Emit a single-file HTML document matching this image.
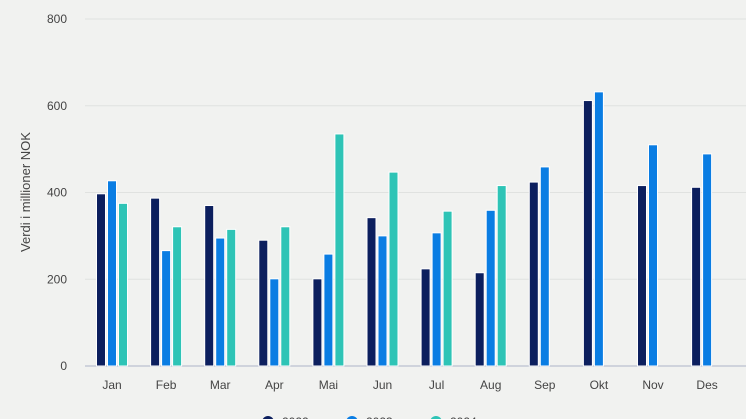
<!DOCTYPE html>
<html><head><meta charset="utf-8"><style>
body{margin:0;background:#f1f2f0;}
svg{display:block;font-family:"Liberation Sans",sans-serif;}
</style></head><body>
<svg id="chart" width="746" height="419" viewBox="0 0 746 419">
<rect width="746" height="419" fill="#f1f2f0"/>
<g id="grid"></g><g id="bars"></g><g id="labels"></g>
<text transform="translate(30,192) rotate(-90)" text-anchor="middle" font-size="13" fill="#444">Verdi i millioner NOK</text>
<g id="legend"></g>
</svg>
<script>
const categories=["Jan","Feb","Mar","Apr","Mai","Jun","Jul","Aug","Sep","Okt","Nov","Des"];
const seriesNames=["2022","2023","2024"];
const s1=[397,387,370,290,201,342,224,215,424,612,416,412];
const s2=[427,266,295,201,258,300,307,359,459,632,510,489];
const s3=[375,321,315,321,535,447,357,416,null,null,null,null];
const yTicks=[0,200,400,600,800];
const colors=["#0c1f5e","#0a7de3","#2ec4b6"];
const NS="http://www.w3.org/2000/svg";
const y=v=>366-v*(347/800);
const x=i=>112+i*54.1;
function mk(t,a,p){const e=document.createElementNS(NS,t);for(const k in a)e.setAttribute(k,a[k]);p.appendChild(e);return e;}
const grid=document.getElementById('grid'),bars=document.getElementById('bars'),labels=document.getElementById('labels'),legend=document.getElementById('legend');
yTicks.forEach(t=>{
 const l=mk('line',{x1:85,x2:746,y1:y(t),y2:y(t),stroke:t===0?'#cfd3dc':'#e0e2e0','stroke-width':t===0?2:1},grid);
 
 
 const tx=mk('text',{x:67,y:y(t)+4,'text-anchor':'end','font-size':12,fill:'#444'},labels);
 tx.textContent=t;
 
 
});
[s1,s2,s3].forEach((s,si)=>{
 s.forEach((v,i)=>{
  if(v==null)return;
  const r=mk('rect',{x:x(i)+(si-1)*11-4.5,y:y(v),width:9,height:y(0)-y(v),fill:colors[si],stroke:'#fff','stroke-width':1},bars);
  
  
 });
});
categories.forEach((c,i)=>{
 const t=mk('text',{x:x(i),y:389,'text-anchor':'middle','font-size':12,fill:'#444'},labels);
 t.textContent=c;
 
 
});
seriesNames.forEach((n,i)=>{
 const g=mk('g',{},legend);
 
 
 mk('circle',{cx:268+i*84,cy:422,r:6,fill:colors[i]},g);
 const t=mk('text',{x:282+i*84,y:426,'font-size':12,fill:'#444'},g);
 t.textContent=n;
});
</script>
</body></html>
